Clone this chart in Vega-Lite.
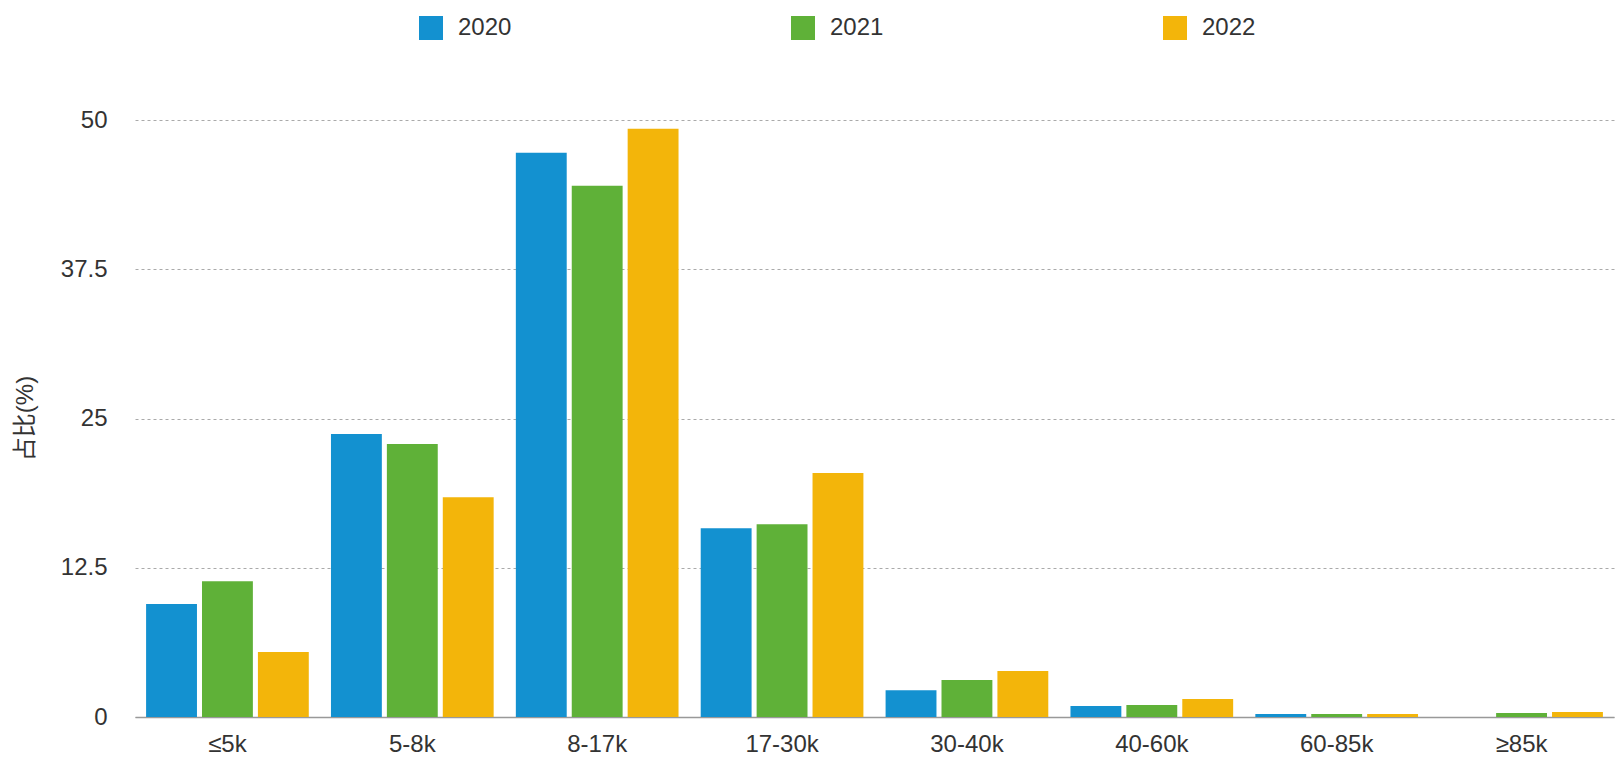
{
  "$schema": "https://vega.github.io/schema/vega-lite/v6.json",
  "autosize": {"type": "none"},
  "padding": {"left": 135, "top": 120, "right": 10, "bottom": 53},
  "width": 1479,
  "height": 597,
  "background": "white",
  "config": {
    "view": {"stroke": null},
    "font": "Liberation Sans, Noto Sans CJK SC",
    "axis": {"labelFont": "Liberation Sans, Noto Sans CJK SC", "titleFont": "Liberation Sans, Noto Sans CJK SC"},
    "legend": {"labelFont": "Liberation Sans, Noto Sans CJK SC"}
  },
  "data": {
    "values": [
      {"range": "≤5k", "year": "2020", "pct": 9.47},
      {"range": "≤5k", "year": "2021", "pct": 11.37},
      {"range": "≤5k", "year": "2022", "pct": 5.45},
      {"range": "5-8k", "year": "2020", "pct": 23.7},
      {"range": "5-8k", "year": "2021", "pct": 22.86},
      {"range": "5-8k", "year": "2022", "pct": 18.4},
      {"range": "8-17k", "year": "2020", "pct": 47.25},
      {"range": "8-17k", "year": "2021", "pct": 44.5},
      {"range": "8-17k", "year": "2022", "pct": 49.26},
      {"range": "17-30k", "year": "2020", "pct": 15.8},
      {"range": "17-30k", "year": "2021", "pct": 16.15},
      {"range": "17-30k", "year": "2022", "pct": 20.43},
      {"range": "30-40k", "year": "2020", "pct": 2.24},
      {"range": "30-40k", "year": "2021", "pct": 3.1},
      {"range": "30-40k", "year": "2022", "pct": 3.86},
      {"range": "40-60k", "year": "2020", "pct": 0.92},
      {"range": "40-60k", "year": "2021", "pct": 1.0},
      {"range": "40-60k", "year": "2022", "pct": 1.5},
      {"range": "60-85k", "year": "2020", "pct": 0.25},
      {"range": "60-85k", "year": "2021", "pct": 0.25},
      {"range": "60-85k", "year": "2022", "pct": 0.25},
      {"range": "≥85k", "year": "2021", "pct": 0.34},
      {"range": "≥85k", "year": "2022", "pct": 0.42}
    ]
  },
  "mark": {"type": "bar"},
  "encoding": {
    "x": {
      "field": "range",
      "type": "nominal",
      "sort": ["≤5k", "5-8k", "8-17k", "17-30k", "30-40k", "40-60k", "60-85k", "≥85k"],
      "scale": {"paddingInner": 0.12, "paddingOuter": 0.06},
      "axis": {
        "title": null,
        "labelAngle": 0,
        "labelFontSize": 24,
        "labelColor": "#333333",
        "labelBaseline": "middle",
        "labelPadding": 27,
        "ticks": false,
        "tickSize": 0,
        "domainColor": "#999999",
        "domainWidth": 1.5,
        "grid": false
      }
    },
    "xOffset": {
      "field": "year",
      "type": "nominal",
      "scale": {"paddingInner": 0.09, "paddingOuter": 0}
    },
    "y": {
      "field": "pct",
      "type": "quantitative",
      "scale": {"domain": [0, 50], "nice": false},
      "axis": {
        "title": "占比(%)",
        "values": [0, 12.5, 25, 37.5, 50],
        "format": ".3~g",
        "labelFontSize": 24,
        "labelColor": "#333333",
        "labelPadding": 28,
        "ticks": false,
        "tickSize": 0,
        "domain": false,
        "grid": true,
        "gridColor": "#aaaaaa",
        "gridDash": [3, 3],
        "gridWidth": 1,
        "titleFontSize": 24,
        "titleFontWeight": "normal",
        "titleColor": "#333333",
        "titleAngle": 270,
        "titleAlign": "center",
        "titleBaseline": "middle",
        "titleX": -110,
        "titleY": 298
      }
    },
    "color": {
      "field": "year",
      "type": "nominal",
      "scale": {"domain": ["2020", "2021", "2022"], "range": ["#1391d0", "#5fb138", "#f3b50a"]},
      "legend": {
        "title": null,
        "orient": "none",
        "legendX": 284,
        "legendY": -104,
        "direction": "horizontal",
        "columns": 3,
        "columnPadding": 279,
        "padding": 0,
        "symbolType": "square",
        "symbolSize": 576,
        "symbolStrokeWidth": 0,
        "symbolOpacity": 1,
        "labelFontSize": 24,
        "labelColor": "#333333",
        "labelOffset": 15
      }
    }
  }
}
